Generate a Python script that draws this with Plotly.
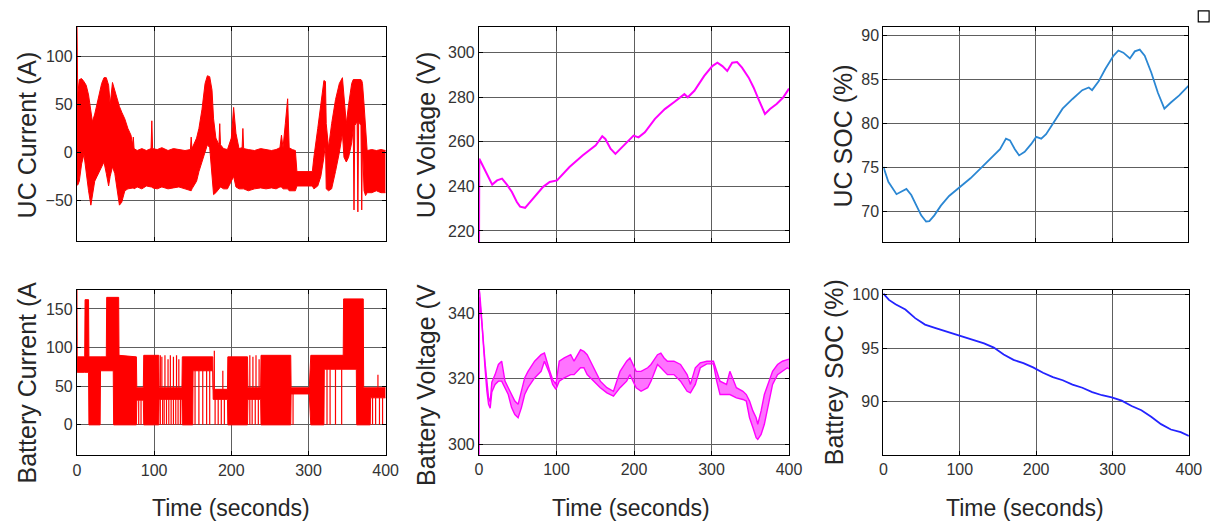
import plotly.graph_objects as go
import numpy as np

# ---------------- data ----------------
# UC current (A): upper / lower envelope of the dense noisy trace
uc_t = [0, 1, 3, 6, 9, 12, 15, 18, 20, 23, 26, 29, 32, 35, 38, 41, 43, 46, 49, 52, 55, 58, 62, 66, 70, 72, 73, 74,
        78, 84, 90, 96, 97, 98, 104, 110, 118, 125, 132, 140, 147, 148, 149, 155, 158, 162, 166, 169, 172, 175, 177,
        180, 184, 185, 186, 190, 195, 200, 203, 206, 210, 214, 215, 216, 222, 230, 238, 245, 252, 258, 263, 265, 267,
        270, 273, 275, 279, 283, 285, 305, 307, 312, 316, 320, 322, 323, 326, 330, 335, 340, 344, 346, 349, 352, 356,
        358, 359, 360, 363, 364, 365, 368, 369, 370, 372, 374, 376, 382, 388, 394, 400]
uc_hi = [135, 60, 76, 77, 74, 70, 60, 45, 32, 40, 50, 62, 72, 78, 78, 70, 50, 73, 65, 55, 48, 42, 35, 25, 18, 8, 16, 4,
         2, 4, 2, 4, 33, 4, 3, 5, 2, 4, 3, 2, 3, 16, 4, 15, 25, 45, 72, 80, 79, 65, 35,
         15, 8, 30, 8, 4, 3, 15, 47, 20, 4, 5, 25, 4, 3, 2, 4, 3, 2, 3, 5, 18, 5,
         30, 56, 5, 3, 2, -20, -20, -5, 25, 50, 75, 74, 30, 5, 30, 55, 72, 78, 60, 30, 50, 72,
         76, 76, 76, 76, 76, 76, 76, 75, 72, 50, 20, 2, 3, 2, 3, 2]
uc_lo = [-34, -34, -30, -12, -2, -22, -40, -55, -45, -30, -25, -20, -15, -10, -22, -35, -25, -15, -22, -40, -55, -52, -40,
         -38, -37, -37, -37, -38,
         -36, -38, -35, -36, -36, -37, -38, -36, -38, -37, -36, -38, -40, -40, -38, -30, -20, -10, 0, 8, 5, -20, -44,
         -42, -38, -38, -36, -38, -38, -30, -25, -36, -38, -38, -38, -38, -40, -38, -37, -38, -37, -38, -36, -36, -38,
         -38, -38, -40, -40, -40, -35, -35, -38, -35, -25, -5, 10, -38, -40, -38, -20, 0, 20, -5, -10, -5, 10,
         25, -60, 28, 32, -62, 32, 28, -60, 10, -40, -45, -42, -42, -40, -42, -42]

# UC voltage (V)
uv_t = [0, 0.3, 1.3, 6.4, 12.7, 17, 23.3, 29.7, 36, 42.4, 48.8, 53, 59.4, 65.8, 74.2, 82.7, 91.2, 100.6, 116.7,
        133.6, 150.6, 159, 163, 169.7, 176, 184.6, 193, 199.4, 205.8, 214, 227, 239.7, 252.4, 265, 269.4, 277.9,
        290.6, 301, 307.6, 314, 320.3, 326.7, 333, 339.4, 348, 354.3, 360.6, 367, 369, 375.5, 384, 392.4, 400]
uv_v = [214, 252.4, 251.7, 248, 243.5, 240.8, 242.7, 243.5, 240.8, 237.5, 233, 230.9, 230.4, 233, 236.8, 239.8, 242,
        242.7, 248.7, 253.9, 258.4, 262.5, 261.3, 256.9, 254.6, 257.6, 260.6, 262.8, 262, 264.3, 270.3, 274.7, 278,
        281.4, 280, 282.9, 289.6, 294, 295.5, 294, 291.8, 295.5, 295.8, 293.3, 288.8, 284.4, 279.2, 274, 272.5,
        274.7, 277, 279.9, 283.9]

# UC SOC (%)
us_t = [0, 6.5, 17.2, 23.7, 30.2, 36.6, 43.1, 49.6, 56, 60.3, 66.8, 75.4, 86.2, 94.8, 101.3, 114.2, 127.2, 140, 153,
        160.8, 166, 172.4, 178, 185.3, 194, 200.4, 207, 213.4, 224, 235, 248, 260.8, 269.4, 273.7, 282.3, 291, 301.7,
        308.2, 314.7, 323.3, 329.7, 336.2, 342.7, 351.3, 360, 368.5, 377, 388, 400]
us_v = [75.1, 73.4, 72.0, 72.3, 72.6, 71.9, 70.8, 69.6, 68.9, 68.95, 69.6, 70.7, 71.8, 72.4, 72.8, 73.8, 74.9, 76.0,
        77.1, 78.3, 78.1, 77.1, 76.4, 76.8, 77.7, 78.5, 78.3, 78.8, 80.2, 81.7, 82.8, 83.8, 84.1, 83.8, 84.8, 86.2,
        87.7, 88.3, 88.05, 87.4, 88.2, 88.4, 87.7, 85.8, 83.5, 81.7, 82.4, 83.2, 84.3]

# Battery current (A): band envelope, sparse drops to zero and upward spikes
ib_t = [0, 0.3, 10, 10.5, 15, 15.5, 30, 30.5, 38, 38.5, 47, 47.5, 54, 54.5, 77, 77.5, 86, 86.5, 106, 106.5, 136,
        136.5, 150, 150.5, 176, 176.5, 195, 195.5, 221, 221.5, 238, 238.5, 277, 277.5, 301, 303, 320, 320.5, 345,
        345.5, 362, 362.5, 371, 371.5, 380, 380.5, 400]
ib_hi = [175, 88, 88, 162, 162, 88, 88, 88, 88, 165, 165, 165, 165, 90, 88, 48, 48, 90, 90, 48, 48,
         88, 88, 88, 88, 46, 46, 88, 88, 48, 48, 90, 90, 48, 48, 90, 90, 90, 90,
         163, 163, 163, 163, 48, 48, 48, 48]
ib_lo = [70, 68, 68, 68, 68, 0, 0, 70, 70, 70, 70, 0, 0, 0, 0, 32, 32, 0, 0, 33, 33,
         0, 0, 70, 70, 33, 33, 0, 0, 33, 33, 0, 0, 40, 40, 0, 0, 72, 72,
         72, 72, 0, 0, 0, 0, 35, 35]
ib_drop_t = [80, 83, 108, 111, 113, 116, 119, 122, 125, 128, 131, 134, 153, 158, 163, 168, 172, 179, 183, 187, 191,
             224, 227, 231, 235, 280, 324, 328, 335, 343, 383, 387, 392, 396]
ib_spike_t = [108, 110, 114, 118, 121, 125, 129, 132, 178, 189, 224, 228, 232, 236, 390]
ib_spike_v = [90, 88, 90, 85, 90, 88, 90, 85, 96, 70, 90, 88, 90, 85, 65]

# Battery voltage (V): upper / lower envelope
bv_t = [0, 0.4, 1, 3.8, 5.9, 8.0, 10.1, 12.3, 14.4, 16.5, 20.7, 25, 29.2, 33.5, 37.7, 42, 46.2, 50.4, 54.7, 58.9,
        63.2, 71.7, 80.1, 84.4, 90.7, 95, 99.2, 103.5, 110, 118.3, 122.6, 131, 135.3, 139.5, 143.8, 148, 156.5, 165,
        173.5, 182, 190.5, 194.7, 198.5, 202.8, 209.1, 217.6, 221.9, 230.3, 234.6, 238.8, 243.1, 251.5, 260, 268.5,
        272.8, 279.1, 285.5, 294, 302.5, 306.7, 311, 319.4, 323.7, 332.1, 340.6, 344.9, 349.1, 353.4, 357.6, 359.7,
        364, 368.2, 374.6, 378.8, 385.2, 391.5, 397.9, 400]
bv_hi = [347, 347, 346, 338.6, 330.5, 324.4, 318.3, 314.2, 313, 319, 321.3, 324.4, 325.4, 319.3, 317.3, 315.2, 313.2,
         312.2, 316.2, 320.3, 322.3, 325.4, 327.4, 327.9, 322.8, 319.8, 318.3, 325.4, 326.4, 327.4, 325.4, 328.9,
         328.4, 327.4, 325.4, 323.4, 319.3, 317.3, 316.2, 322.3, 325.4, 326.4, 324.4, 322.3, 322.3, 323.4, 324.4,
         327.4, 327.9, 326.4, 325.4, 325.4, 324.4, 321.3, 318.3, 323.4, 324.9, 325.4, 325.4, 322.3, 319.3, 318.3,
         322.3, 317.3, 316.2, 315.2, 313.2, 310.2, 308.1, 306.1, 310.2, 315.2, 319.3, 322.3, 324.4, 325.4, 325.9, 326]
bv_lo = [290, 345, 344, 336.6, 328.5, 322.4, 316.3, 312.2, 311, 316, 318.3, 319.3, 319.3, 317.3, 315.2, 311.2, 309.1,
         308.1, 311.2, 315.2, 317.3, 320.3, 322.3, 325.4, 321.8, 318.3, 316.8, 319.3, 320.3, 321.3, 321.3, 323.4,
         323.4, 321.3, 320.3, 319.3, 317.3, 315.7, 314.7, 317.3, 319.3, 321.3, 319.3, 317.3, 316.2, 317.3, 319.3,
         324.4, 323.4, 322.3, 321.3, 321.3, 319.3, 316.2, 315.7, 318.3, 323.4, 324.6, 324.6, 319.3, 315.2, 315.2,
         315.2, 314.2, 313.7, 313.2, 308.1, 305.1, 302, 301.5, 303, 306.1, 313.2, 318.3, 321.3, 322.3, 323.4, 323]

# Battery SOC (%)
bs_t = [0, 7.3, 15.9, 28.8, 41.6, 54.5, 67.4, 80.3, 93.1, 106, 118.9, 131.8, 144.6, 157.5, 170.4, 183.3, 196, 209,
        221.9, 234.8, 247.6, 260.5, 273.4, 286.3, 299, 312, 325, 337.8, 350.6, 363.5, 376.4, 389.3, 400]
bs_v = [100.1, 99.5, 99.1, 98.6, 97.8, 97.2, 96.9, 96.6, 96.3, 96.0, 95.7, 95.45, 95.05, 94.4, 93.9, 93.6, 93.2,
        92.7, 92.3, 92.0, 91.6, 91.3, 90.9, 90.6, 90.4, 90.1, 89.6, 89.2, 88.6, 87.9, 87.4, 87.15, 86.8]

x_ticks = [0, 100, 200, 300, 400]

# ---------------- layout helpers ----------------
W, H = 1230, 522


def px(x):
    return x / W


def py(y):
    return 1 - y / H


RED = "#ff0000"
MAG = "#ff00ff"
LBLUE = "#2b87d3"
BLUE = "#2323ff"
FONT = "Liberation Sans, Arial, sans-serif"

panels = [
    dict(xd=(74, 387), yd=(24, 239), rng=[-92, 131], tv=[-50, 0, 50, 100], xlab=False),
    dict(xd=(481.7, 796), yd=(24, 240.7), rng=[214.9, 311.6], tv=[220, 240, 260, 280, 300], xlab=False),
    dict(xd=(891.7, 1201), yd=(24, 240.7), rng=[66.54, 90.98], tv=[70, 75, 80, 85, 90], xlab=False),
    dict(xd=(74, 387), yd=(288.3, 455), rng=[-39.5, 175], tv=[0, 50, 100, 150], xlab=True),
    dict(xd=(481.7, 796), yd=(288.3, 454.3), rng=[296.8, 347.3], tv=[300, 320, 340], xlab=True),
    dict(xd=(891.7, 1201.5), yd=(288.3, 454.3), rng=[85.05, 100.46], tv=[90, 95, 100], xlab=True),
]

fig = go.Figure()


def band(t, lo, hi, color, fillcolor, k, w=1.0):
    ax = "" if k == 1 else str(k)
    fig.add_trace(go.Scatter(x=t, y=lo, mode="lines", line=dict(color=color, width=w),
                             xaxis="x" + ax, yaxis="y" + ax, showlegend=False, hoverinfo="skip"))
    fig.add_trace(go.Scatter(x=t, y=hi, mode="lines", line=dict(color=color, width=w), fill="tonexty",
                             fillcolor=fillcolor, xaxis="x" + ax, yaxis="y" + ax, showlegend=False,
                             hoverinfo="skip"))


def line(t, v, color, k, w=1.8):
    ax = "" if k == 1 else str(k)
    fig.add_trace(go.Scatter(x=t, y=v, mode="lines", line=dict(color=color, width=w),
                             xaxis="x" + ax, yaxis="y" + ax, showlegend=False))


band(uc_t, uc_lo, uc_hi, RED, RED, 1)
line(uv_t, uv_v, MAG, 2, 2.0)
line(us_t, us_v, LBLUE, 3, 1.8)
band(ib_t, ib_lo, ib_hi, RED, RED, 4)

# sparse drops to zero and upward spikes for battery current
dx, dy = [], []
lo_at = np.interp(ib_drop_t, ib_t, ib_lo)
for t, top in zip(ib_drop_t, lo_at):
    dx += [t, t, None]
    dy += [0, top, None]
hi_at = np.interp(ib_spike_t, ib_t, ib_hi)
for t, base, v in zip(ib_spike_t, hi_at, ib_spike_v):
    dx += [t, t, None]
    dy += [base, v, None]
fig.add_trace(go.Scatter(x=dx, y=dy, mode="lines", line=dict(color=RED, width=1.2),
                         xaxis="x4", yaxis="y4", showlegend=False, connectgaps=False))

band(bv_t, bv_lo, bv_hi, MAG, "rgba(255,0,255,0.55)", 5, 1.4)
line(bs_t, bs_v, BLUE, 6, 1.8)

layout = dict(width=W, height=H, autosize=False, margin=dict(l=0, r=0, t=0, b=0),
              paper_bgcolor="white", plot_bgcolor="white", font=dict(family=FONT, color="#262626"))

for i, p in enumerate(panels, start=1):
    s = "" if i == 1 else str(i)
    common = dict(showgrid=True, gridcolor="#5e5e5e", gridwidth=1, showline=True, linecolor="black",
                  linewidth=1.2, mirror="ticks", ticks="inside", ticklen=4, tickcolor="black",
                  zeroline=False, tickfont=dict(size=16, color="#333333", family=FONT))
    layout["xaxis" + s] = dict(common, domain=[px(p["xd"][0]), px(p["xd"][1])], range=[0, 400],
                               tickvals=x_ticks, showticklabels=p["xlab"], anchor="y" + s)
    layout["yaxis" + s] = dict(common, domain=[py(p["yd"][1]), py(p["yd"][0])], range=p["rng"],
                               tickvals=p["tv"], anchor="x" + s)

fig.update_layout(**layout)

ytitles = [("UC Current (A)", 23.5, 133), ("UC Voltage (V)", 428, 133), ("UC SOC (%)", 851, 134),
           ("Battery Current (A", 23, 382), ("Battery Voltage (V", 428, 384), ("Battrey SOC (%)", 842, 371)]
for txt, x, y in ytitles:
    fig.add_annotation(text=txt, x=px(x), y=py(y), xref="paper", yref="paper", textangle=-90,
                       showarrow=False, xanchor="center", yanchor="middle",
                       font=dict(size=25, color="#262626", family=FONT))
for x in (230.5, 636, 1035):
    fig.add_annotation(text="Time (seconds)", x=px(x), y=py(508), xref="paper", yref="paper",
                       showarrow=False, xanchor="center", yanchor="middle",
                       font=dict(size=23, color="#262626", family=FONT))

# small export icon in the top-right corner
fig.add_shape(type="rect", xref="paper", yref="paper", x0=px(1211), x1=px(1222), y0=py(19), y1=py(8),
              line=dict(color="black", width=1.2))

fig.write_html("out.html")
